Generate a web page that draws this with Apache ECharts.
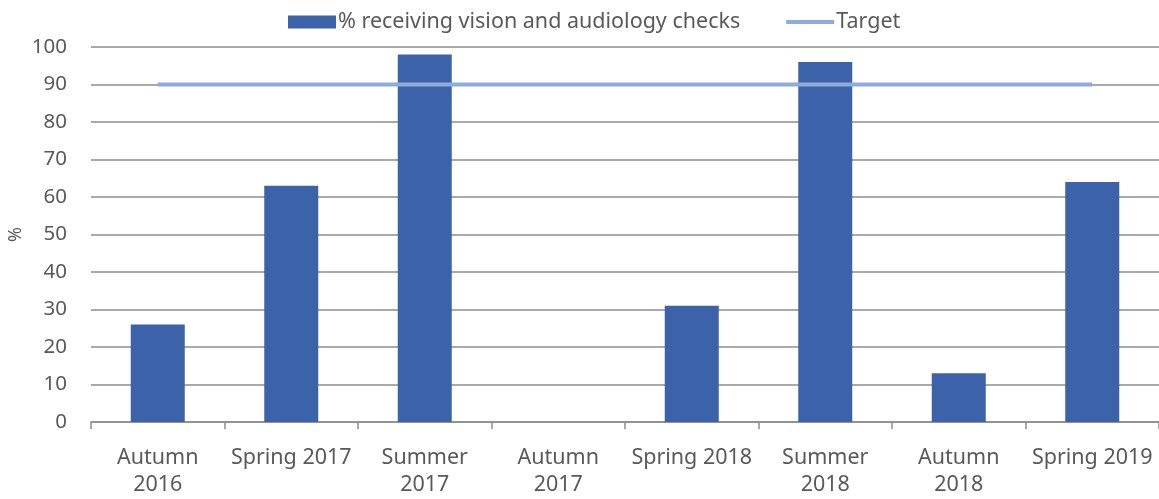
<!DOCTYPE html>
<html>
<head>
<meta charset="utf-8">
<script src="https://cdn.jsdelivr.net/npm/echarts@6/dist/echarts.min.js"></script>
<style>
  html, body { margin: 0; padding: 0; background: #fff; }
  #chart { width: 1159px; height: 499px; }
</style>
</head>
<body>
<div id="chart"></div>
<script>
const categories = ['Autumn\n2016', 'Spring 2017', 'Summer\n2017', 'Autumn\n2017', 'Spring 2018', 'Summer\n2018', 'Autumn\n2018', 'Spring 2019']
const checks = [26, 63, 98, 0, 31, 96, 13, 64]
const target = [90, 90, 90, 90, 90, 90, 90, 90]
const yTicks = [0, 10, 20, 30, 40, 50, 60, 70, 80, 90, 100]

const font = 'Noto Sans'
const textColor = '#595959'

const chart = echarts.init(document.getElementById('chart'))

chart.setOption({
  animation: false,
  legend: {
    top: 11,
    left: 288,
    padding: 0,
    itemGap: 46,
    itemWidth: 48,
    itemHeight: 13,
    textStyle: { fontFamily: font, fontSize: 21.5, color: textColor, padding: [0, 0, 0, -3] },
    data: [
      { name: '% receiving vision and audiology checks', icon: 'rect' },
      { name: 'Target', icon: 'path://M0,0 H48 V4 H0 Z', itemStyle: { color: '#8faadc' } },
    ],
  },
  grid: {
    left: 91,
    right: 0,
    top: 47,
    bottom: 77,
    outerBoundsMode: 'none',
  },
  xAxis: {
    type: 'category',
    data: categories,
    axisLine: { lineStyle: { color: '#8c8c8c', width: 1.5 } },
    axisTick: { show: true, length: 7, lineStyle: { color: '#8c8c8c', width: 1.5 } },
    axisLabel: {
      fontFamily: font,
      fontSize: 21.5,
      color: textColor,
      lineHeight: 27,
      margin: 22,
      interval: 0,
    },
  },
  yAxis: {
    type: 'value',
    min: yTicks[0],
    max: yTicks[yTicks.length - 1],
    interval: 10,
    name: '%',
    nameLocation: 'middle',
    nameRotate: 90,
    nameGap: 66,
    nameMoveOverlap: false,
    nameTextStyle: { fontFamily: font, fontSize: 18, color: textColor },
    axisLine: { show: false },
    axisTick: { show: false },
    axisLabel: { fontFamily: font, fontSize: 20.5, color: textColor, margin: 24 },
    splitLine: { lineStyle: { color: '#8c8c8c', width: 1.5 } },
  },
  series: [
    {
      name: '% receiving vision and audiology checks',
      type: 'bar',
      data: checks,
      barWidth: 54,
      itemStyle: { color: '#3c63aa' },
    },
    {
      name: 'Target',
      type: 'line',
      data: target,
      symbol: 'none',
      lineStyle: { color: '#8faadc', width: 4 },
      itemStyle: { color: '#8faadc' },
      z: 3,
    },
  ],
})
</script>
</body>
</html>
